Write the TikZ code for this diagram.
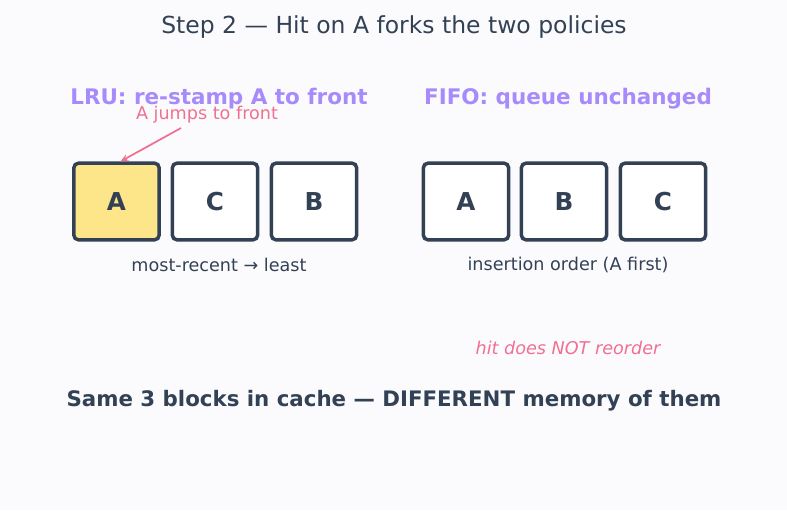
\documentclass[tikz,border=0pt]{standalone}
\usepackage{fontspec}
\setmainfont{DejaVu Sans}
\usetikzlibrary{arrows.meta}
\definecolor{bg}{HTML}{FBFBFE}
\definecolor{ink}{HTML}{334155}
\definecolor{purp}{HTML}{A78BFA}
\definecolor{pink}{HTML}{F07090}
\definecolor{yel}{HTML}{FDE68A}
\tikzset{
  cell/.style={draw=ink, line width=2.6pt, rounded corners=3.5pt, minimum width=64pt, minimum height=57.5pt, fill=white, inner sep=0pt, font=\bfseries\fontsize{18.5}{21}\selectfont, text=ink},
  hot/.style={fill=yel},
  head/.style={font=\bfseries\fontsize{16.1}{19}\selectfont, text=purp},
  undertxt/.style={font=\fontsize{13.2}{16}\selectfont, text=ink},
  note/.style={font=\fontsize{13.2}{16}\selectfont, text=pink},
}
\begin{document}
\begin{tikzpicture}[x=0.75pt,y=-0.75pt]
\fill[bg] (0,0) rectangle (787,510);
\useasboundingbox (0,0) rectangle (787,510);
\node[font=\fontsize{17.6}{21}\selectfont, text=ink] (title) at (394,27) {Step 2 — Hit on A forks the two policies};
\node[head] (lruh) at (219,99) {LRU: re-stamp A to front};
\node[head] (fifoh) at (568,99) {FIFO: queue unchanged};
\node[note] (jump) at (207,114.5) {A jumps to front};
\node[cell,hot] (la) at (116.5,201.5) {A};
\node[cell] (lc) at (215,201.5) {C};
\node[cell] (lb) at (314,201.5) {B};
\node[cell] (fa) at (466,201.5) {A};
\node[cell] (fb) at (564,201.5) {B};
\node[cell] (fc) at (663,201.5) {C};
\coordinate (js) at (181,128);
\draw[pink, line width=1.3pt, -{Stealth[length=6pt,width=5pt]}] (js) -- ([xshift=3pt]la.north);
\node[undertxt] (lcap) at (219,264.5) {most-recent → least};
\node[undertxt] (fcap) at (568,264.5) {insertion order (A first)};
\node[note, font=\itshape\fontsize{13.2}{16}\selectfont] (hit) at (568,347.5) {hit does NOT reorder};
\node[font=\bfseries\fontsize{16}{19}\selectfont, text=ink] (bottom) at (394,401) {Same 3 blocks in cache — DIFFERENT memory of them};
\end{tikzpicture}
\end{document}
